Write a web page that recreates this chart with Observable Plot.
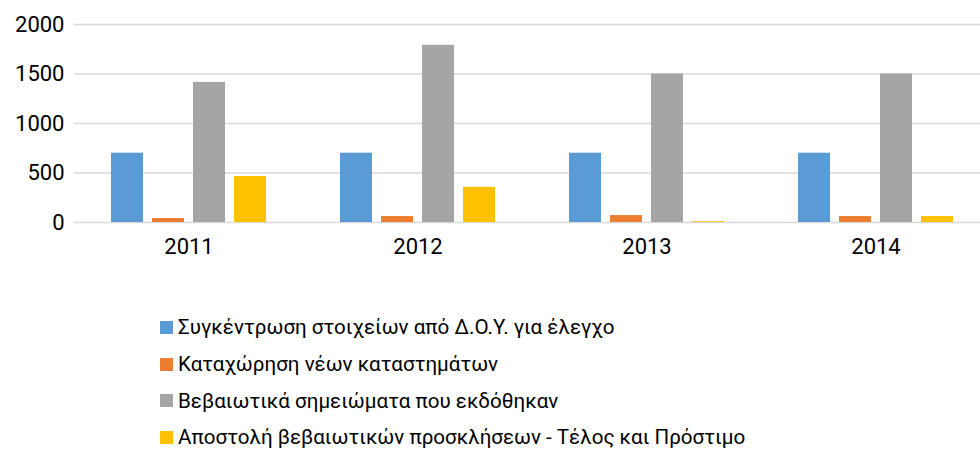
<!DOCTYPE html>
<html>
<head>
<meta charset="utf-8">
<script src="https://cdn.jsdelivr.net/npm/d3@7"></script>
<script src="https://cdn.jsdelivr.net/npm/@observablehq/plot@0.6"></script>
<style>
  body { margin: 0; background: #fff; width: 980px; height: 452px; overflow: hidden; font-family: Roboto, "Noto Sans", sans-serif; }
  #chart { width: 980px; height: 280px; overflow: hidden; }
  #chart svg { max-width: none !important; }
  #legend { margin-top: 29px; padding-left: 160px; }
  .row { display: flex; align-items: center; height: 36.7px; font-size: 20.6px; color: #000; }
  .sw { width: 13px; height: 13px; margin-right: 5px; flex: none; }
</style>
</head>
<body>
<div id="chart"></div>
<div id="legend"></div>
<script>
const years = ["2011", "2012", "2013", "2014"];
const seriesNames = [
  "Συγκέντρωση στοιχείων από Δ.Ο.Υ. για έλεγχο",
  "Καταχώρηση νέων καταστημάτων",
  "Βεβαιωτικά σημειώματα που εκδόθηκαν",
  "Αποστολή βεβαιωτικών προσκλήσεων - Τέλος και Πρόστιμο"
];
const collection = [700, 700, 700, 700];
const newStores = [40, 60, 70, 60];
const notes = [1415, 1790, 1500, 1500];
const invitations = [465, 355, 8, 60];
const yTicks = [0, 500, 1000, 1500, 2000];
const colors = ["#5B9BD5", "#ED7D31", "#A5A5A5", "#FFC000"];

const seriesValues = [collection, newStores, notes, invitations];
const data = [];
years.forEach((yr, i) => {
  seriesNames.forEach((s, j) => data.push({year: yr, series: s, value: seriesValues[j][i]}));
});

const chart = Plot.plot({
  width: 991,
  height: 280,
  marginLeft: 72,
  marginRight: 0,
  marginTop: 24,
  marginBottom: 58,
  style: {fontFamily: "Roboto, 'Noto Sans', sans-serif", fontSize: "22px", color: "#000", background: "#fff"},
  fx: {domain: years, padding: 0, label: null, tickSize: 0, tickPadding: 16},
  x: {domain: seriesNames, paddingInner: 0.21, paddingOuter: 0.86, axis: null},
  y: {domain: [0, 2000], ticks: yTicks, tickFormat: d3.format("d"), label: null, tickSize: 0, tickPadding: 10},
  color: {domain: seriesNames, range: colors},
  marks: [
    Plot.ruleY(yTicks, {stroke: "#d9d9d9", strokeWidth: 1.5}),
    Plot.barY(data, {fx: "year", x: "series", y: "value", fill: "series"})
  ]
});
chart.style.maxWidth = "none";
document.getElementById("chart").appendChild(chart);

const legend = document.getElementById("legend");
seriesNames.forEach((s, j) => {
  const row = document.createElement("div");
  row.className = "row";
  const sw = document.createElement("span");
  sw.className = "sw";
  sw.style.background = colors[j];
  const t = document.createElement("span");
  t.textContent = s;
  row.appendChild(sw);
  row.appendChild(t);
  legend.appendChild(row);
});
</script>
</body>
</html>
